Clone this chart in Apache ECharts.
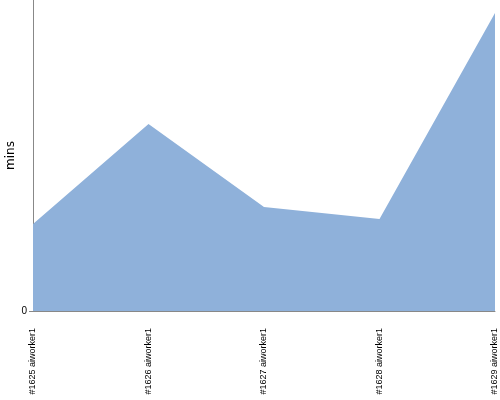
<!DOCTYPE html>
<html><head><meta charset="utf-8">
<script src="https://cdn.jsdelivr.net/npm/echarts@6/dist/echarts.min.js"></script>
<style>html,body{margin:0;padding:0;background:#fff}#c{width:500px;height:400px}</style>
</head><body><div id="c"></div>
<script>
const categories = ['#1625 aiworker1', '#1626 aiworker1', '#1627 aiworker1', '#1628 aiworker1', '#1629 aiworker1'];
const values = [87, 187, 104, 92, 298];
const yMax = 311;
const yTicks = [0];

const chart = echarts.init(document.getElementById('c'));
chart.setOption({
  animation: false,
  grid: {left: 33, right: 5, top: 0, bottom: 89, containLabel: false, outerBoundsMode: 'none'},
  xAxis: {
    type: 'category', data: categories, boundaryGap: false,
    axisLine: {lineStyle: {color: '#888'}},
    axisTick: {show: false},
    axisLabel: {rotate: 90, margin: 17, fontSize: 9, color: '#000', fontFamily: "'Liberation Sans', sans-serif", interval: 0}
  },
  yAxis: {
    type: 'value', min: 0, max: yMax, interval: yMax,
    name: 'mins', nameLocation: 'middle', nameGap: 16, nameRotate: 90, nameMoveOverlap: false,
    nameTextStyle: {fontSize: 12, color: '#000', fontFamily: 'DejaVu Sans, sans-serif'},
    axisLine: {show: true, lineStyle: {color: '#888'}},
    axisTick: {show: true, length: 4, lineStyle: {color: '#888'}, customValues: yTicks},
    splitLine: {show: false},
    axisLabel: {fontSize: 10, color: '#000', margin: 6, customValues: yTicks}
  },
  series: [{
    type: 'line', data: values, symbol: 'none',
    lineStyle: {width: 0},
    areaStyle: {color: '#8fb1da', opacity: 1}
  }]
});
</script></body></html>
